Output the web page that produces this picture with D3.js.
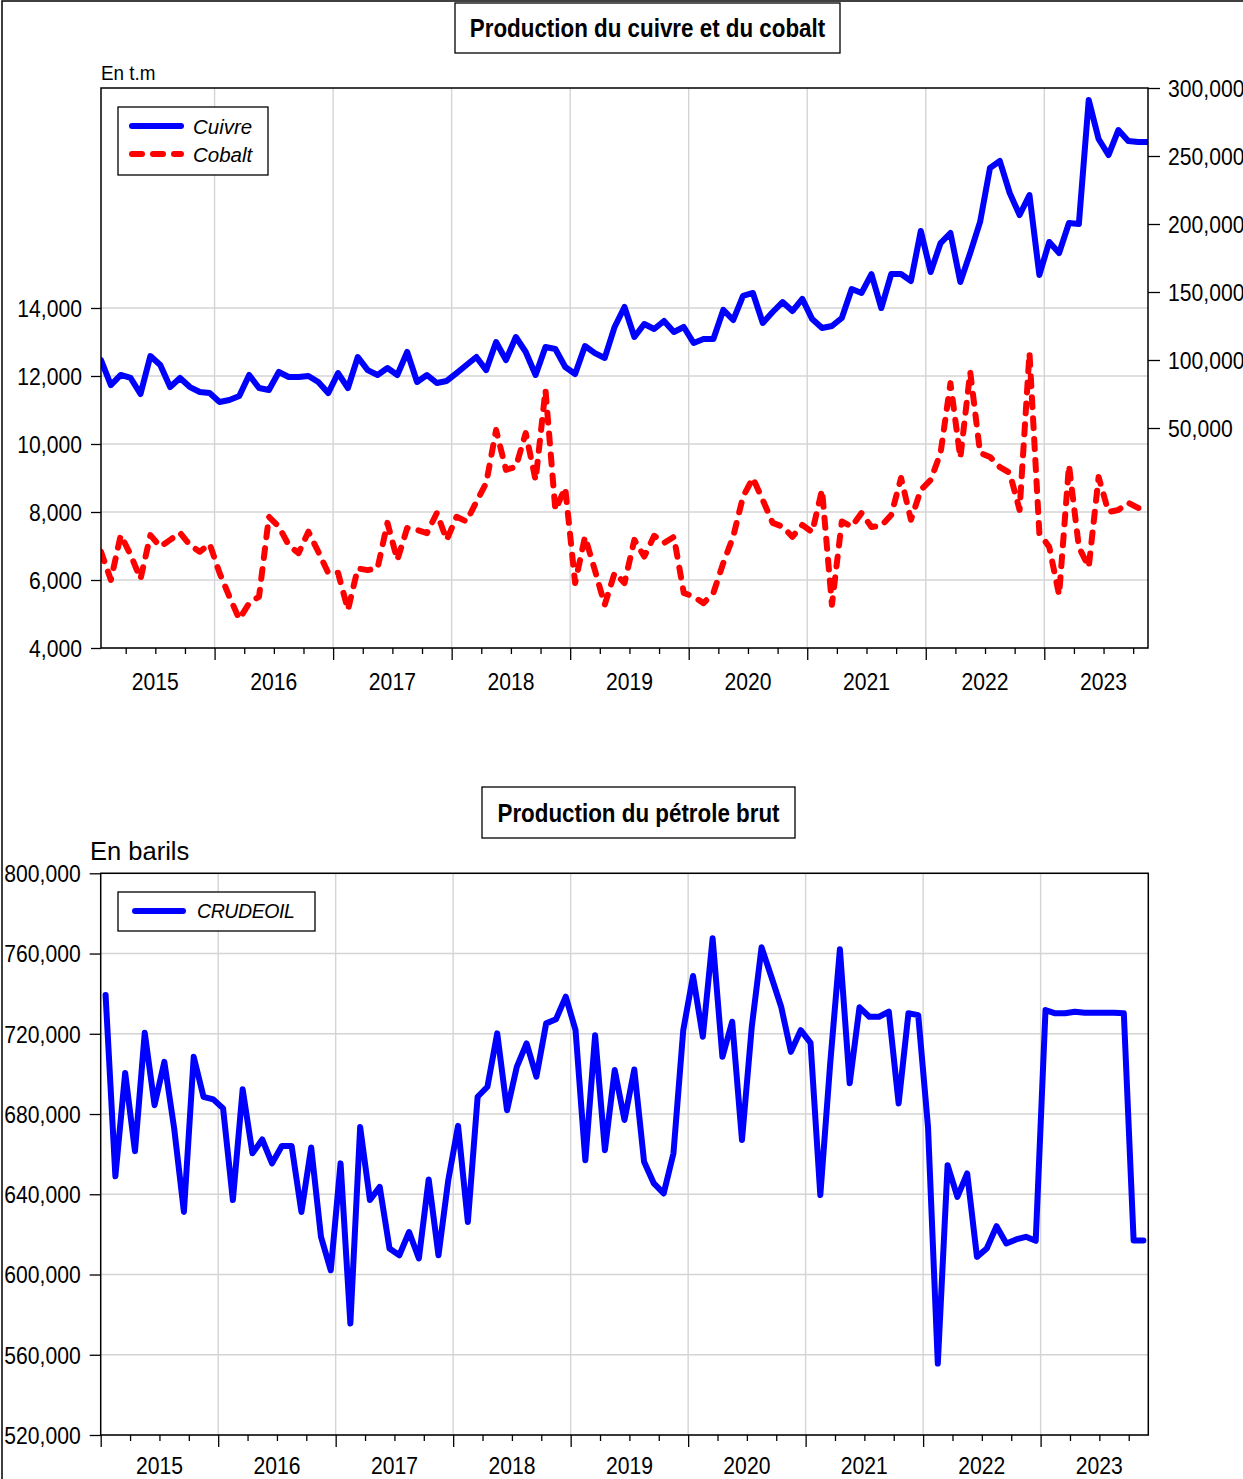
<!DOCTYPE html>
<html>
<head>
<meta charset="utf-8">
<script src="https://cdn.jsdelivr.net/npm/d3@7/dist/d3.min.js"></script>
<style>
body { margin: 0; background: #fff; }
svg { display: block; }
</style>
</head>
<body>
<script>
var years = ['2015', '2016', '2017', '2018', '2019', '2020', '2021', '2022', '2023'];

// monthly, Jan 2015 - Nov 2023
var cuivre = [100000, 81600, 89000, 86800, 75000, 102900, 96300, 80100, 86800, 80100,
  76500, 75700, 69100, 70600, 73500, 89000, 79400, 77900, 91200, 87500,
  87500, 88200, 83800, 75700, 90400, 79400, 102200, 92600, 89000, 94100,
  89000, 105900, 83800, 89000, 83100, 84600, 90400, 96300, 102200, 92600,
  113200, 100000, 116900, 105900, 89000, 109600, 108100, 94900, 89700, 110300,
  105100, 101500, 124300, 139000, 116900, 126500, 122800, 128700, 120600, 124300,
  112500, 115400, 115400, 136800, 129400, 147100, 149300, 127200, 135300, 142600,
  136000, 144900, 130100, 123500, 125000, 130900, 152200, 149300, 163200, 138200,
  163200, 163200, 158100, 194900, 164700, 186000, 193400, 157400, 178700, 201500,
  241200, 246300, 222800, 206600, 221300, 162500, 186800, 178700, 200700, 200000,
  291200, 262500, 250700, 269100, 261000, 260300, 260300];

var cobalt = [6830, 6000, 7320, 6740, 6030, 7320, 6980, 7180, 7390, 7030,
  6830, 7060, 6210, 5510, 4850, 5320, 5510, 7860, 7570, 7030,
  6790, 7420, 6830, 6210, 6210, 5120, 6340, 6290, 6350, 7680,
  6590, 7530, 7470, 7380, 7970, 7180, 7860, 7720, 8300, 8850,
  10410, 9240, 9330, 10320, 8940, 11590, 8060, 8710, 5910, 7270,
  6290, 5270, 6210, 5910, 7180, 6690, 7300, 7090, 7270, 5620,
  5510, 5320, 5620, 6500, 7270, 8450, 9000, 8350, 7680, 7570,
  7270, 7620, 7410, 8650, 5270, 7720, 7570, 7970, 7560, 7590,
  7910, 9000, 7770, 8650, 8940, 9740, 11790, 9590, 12120, 9740,
  9620, 9320, 9150, 8060, 12680, 7380, 6970, 5560, 9380, 6970,
  6380, 9030, 8000, 8060, 8270, 8120, 8120];

var crudeoil = [739300, 649000, 700500, 661500, 720500, 684400, 706000, 673000, 631200, 708500,
  688600, 687300, 682800, 637100, 692300, 660400, 667300, 655400, 664100, 664100,
  631200, 663300, 618800, 602100, 655400, 575600, 673500, 637100, 643700, 613000,
  609600, 621200, 608000, 647400, 609600, 647000, 674100, 626200, 688600, 693600,
  720200, 681900, 703500, 715200, 698600, 725200, 727200, 738500, 721800, 657000,
  719300, 662000, 701900, 677000, 702200, 656200, 645400, 640400, 660400, 721800,
  748800, 718500, 767600, 708500, 726000, 667000, 723500, 763100, 748400, 733500,
  711000, 721800, 715500, 639600, 704600, 762100, 695300, 733200, 728500, 728500,
  731000, 685300, 730200, 729300, 673600, 555600, 654500, 638700, 650400, 608800,
  613000, 624100, 615500, 617500, 618800, 616800, 731800, 730200, 730200, 731000,
  730500, 730500, 730500, 730500, 730200, 617000, 617000];

var cobaltTicks = [4000, 6000, 8000, 10000, 12000, 14000];
var cuivreTicks = [50000, 100000, 150000, 200000, 250000, 300000];
var oilTicks = [520000, 560000, 600000, 640000, 680000, 720000, 760000, 800000];

var W = 1243, H = 1479;
var SQ = 0.92;
var fmt = d3.format(',');
var nObs = cuivre.length;

var svg = d3.select('body').append('svg')
    .attr('width', W)
    .attr('height', H)
    .style('font-family', '"Liberation Sans", Arial, sans-serif');

svg.append('path')
    .attr('d', 'M2,' + H + 'V1H' + W)
    .attr('fill', 'none')
    .attr('stroke', '#000')
    .attr('stroke-width', 1.5);

function titleBox(txt, cx, y, w, h) {
    svg.append('rect')
        .attr('x', cx - w / 2).attr('y', y)
        .attr('width', w).attr('height', h)
        .attr('fill', '#fff').attr('stroke', '#000').attr('stroke-width', 1.3);
    svg.append('text')
        .attr('transform', 'translate(' + cx + ',' + (y + h / 2 + 9) + ') scale(0.895,1)')
        .attr('text-anchor', 'middle')
        .style('font-weight', 'bold')
        .style('font-size', '25px')
        .text(txt);
}

function grid(g, p, x, y, xs, ys) {
    g.selectAll('.gx').data(xs).enter().append('line')
        .attr('x1', x).attr('x2', x)
        .attr('y1', p.top).attr('y2', p.bottom)
        .attr('stroke', '#d4d4d4').attr('stroke-width', 1.4);
    g.selectAll('.gy').data(ys).enter().append('line')
        .attr('x1', p.left).attr('x2', p.right)
        .attr('y1', y).attr('y2', y)
        .attr('stroke', '#d4d4d4').attr('stroke-width', 1.4);
}

function xAxis(p, x, ticks, labelY) {
    var g = svg.append('g').attr('transform', 'translate(0,' + p.bottom + ')');
    g.call(d3.axisBottom(x).tickValues(ticks).tickSize(6).tickSizeOuter(0).tickFormat(''));
    g.select('.domain').remove();
    g.selectAll('.tick line')
        .attr('y2', function(d) { return (d + 0.5) % 12 === 0 ? 12 : 6; })
        .attr('stroke', '#000').attr('stroke-width', 1.3);
    svg.selectAll(null).data(years).enter().append('text')
        .attr('transform', function(d, i) {
            return 'translate(' + x(12 * i + 5.5) + ',' + labelY + ') scale(' + SQ + ',1)';
        })
        .attr('text-anchor', 'middle')
        .style('font-size', '23px')
        .text(function(d) { return d; });
}

function yAxis(axis, xpos, shift) {
    var g = svg.append('g').attr('transform', 'translate(' + xpos + ',0)');
    g.call(axis);
    g.select('.domain').remove();
    g.selectAll('.tick line').attr('stroke', '#000').attr('stroke-width', 1.3);
    g.selectAll('.tick text')
        .attr('x', null)
        .attr('dy', '0.36em')
        .attr('transform', 'translate(' + shift + ',0) scale(' + SQ + ',1)')
        .attr('fill', '#000')
        .style('font-size', '23px')
        .style('font-family', '"Liberation Sans", Arial, sans-serif');
    return g;
}

function clip(id, p) {
    svg.append('clipPath').attr('id', id).append('rect')
        .attr('x', p.left).attr('y', p.top)
        .attr('width', p.right - p.left).attr('height', p.bottom - p.top);
}

// ---------- top chart ----------
var p1 = {left: 101, right: 1148, top: 88, bottom: 648};
var x1 = d3.scaleLinear().domain([0, nObs - 1]).range([p1.left, p1.right]);
var yLeft = d3.scaleLinear().domain([4000, 20470]).range([p1.bottom, p1.top]);
var yRight = d3.scaleLinear().domain([-111760, 300000]).range([p1.bottom, p1.top]);

var breaks1 = d3.range(1, years.length).map(function(k) { return 12 * k - 0.5; });
var quarters1 = d3.range(2.5, nObs - 1, 3);

titleBox('Production du cuivre et du cobalt', 647.5, 3, 385, 50);

var g1 = svg.append('g');
grid(g1, p1, x1, yLeft, breaks1, cobaltTicks);
clip('c1', p1);

var lineCu = d3.line()
    .x(function(d, i) { return x1(i); })
    .y(function(d) { return yRight(d); });
var lineCo = d3.line()
    .x(function(d, i) { return x1(i); })
    .y(function(d) { return yLeft(d); });

g1.append('path').datum(cuivre)
    .attr('clip-path', 'url(#c1)')
    .attr('d', lineCu)
    .attr('fill', 'none').attr('stroke', '#0000ff').attr('stroke-width', 6)
    .attr('stroke-linejoin', 'round').attr('stroke-linecap', 'round');
g1.append('path').datum(cobalt)
    .attr('clip-path', 'url(#c1)')
    .attr('d', lineCo)
    .attr('fill', 'none').attr('stroke', '#ff0000').attr('stroke-width', 6)
    .attr('stroke-dasharray', '10,11')
    .attr('stroke-linejoin', 'round').attr('stroke-linecap', 'round');

svg.append('rect')
    .attr('x', p1.left).attr('y', p1.top)
    .attr('width', p1.right - p1.left).attr('height', p1.bottom - p1.top)
    .attr('fill', 'none').attr('stroke', '#000').attr('stroke-width', 1.5);

yAxis(d3.axisLeft(yLeft).tickValues(cobaltTicks).tickSize(10).tickFormat(fmt), p1.left, -19)
    .selectAll('.tick text').attr('text-anchor', 'end');
yAxis(d3.axisRight(yRight).tickValues(cuivreTicks).tickSize(12).tickFormat(fmt), p1.right, 20)
    .selectAll('.tick text').attr('text-anchor', 'start');
xAxis(p1, x1, quarters1, 690);

svg.append('text')
    .attr('transform', 'translate(' + p1.left + ',80) scale(0.9,1)')
    .style('font-size', '21px')
    .text('En t.m');

var leg1 = svg.append('g');
leg1.append('rect')
    .attr('x', 118).attr('y', 107).attr('width', 150).attr('height', 68)
    .attr('fill', '#fff').attr('stroke', '#000').attr('stroke-width', 1.3);
var legItems1 = [
    {name: 'Cuivre', color: '#0000ff', dash: null},
    {name: 'Cobalt', color: '#ff0000', dash: '10,11'}
];
legItems1.forEach(function(d, i) {
    var ly = 126 + i * 28;
    leg1.append('line')
        .attr('x1', 132).attr('x2', 181).attr('y1', ly).attr('y2', ly)
        .attr('stroke', d.color).attr('stroke-width', 6)
        .attr('stroke-linecap', 'round')
        .attr('stroke-dasharray', d.dash);
    leg1.append('text')
        .attr('x', 193).attr('y', ly + 7.5)
        .style('font-style', 'italic').style('font-size', '20.5px')
        .text(d.name);
});

// ---------- bottom chart ----------
var p2 = {left: 100.7, right: 1148.3, top: 873.3, bottom: 1435};
var x2 = d3.scaleLinear().domain([-0.5, nObs - 0.5]).range([p2.left, p2.right]);
var y2 = d3.scaleLinear().domain([520000, 800000]).range([p2.bottom, p2.top]);

var breaks2 = breaks1;
var quarters2 = d3.range(-0.5, nObs, 3);

titleBox('Production du pétrole brut', 638.5, 787, 313, 51);

var g2 = svg.append('g');
grid(g2, p2, x2, y2, breaks2, oilTicks);
clip('c2', p2);

var lineOil = d3.line()
    .x(function(d, i) { return x2(i); })
    .y(function(d) { return y2(d); });

g2.append('path').datum(crudeoil)
    .attr('clip-path', 'url(#c2)')
    .attr('d', lineOil)
    .attr('fill', 'none').attr('stroke', '#0000ff').attr('stroke-width', 6)
    .attr('stroke-linejoin', 'round').attr('stroke-linecap', 'round');

svg.append('rect')
    .attr('x', p2.left).attr('y', p2.top)
    .attr('width', p2.right - p2.left).attr('height', p2.bottom - p2.top)
    .attr('fill', 'none').attr('stroke', '#000').attr('stroke-width', 1.5);

yAxis(d3.axisLeft(y2).tickValues(oilTicks).tickSize(11).tickFormat(fmt), p2.left, -20)
    .selectAll('.tick text').attr('text-anchor', 'end');
xAxis(p2, x2, quarters2, 1474);

svg.append('text')
    .attr('x', 90).attr('y', 860)
    .style('font-size', '25.5px')
    .text('En barils');

var leg2 = svg.append('g');
leg2.append('rect')
    .attr('x', 118).attr('y', 892).attr('width', 197).attr('height', 39)
    .attr('fill', '#fff').attr('stroke', '#000').attr('stroke-width', 1.3);
leg2.append('line')
    .attr('x1', 135).attr('x2', 183).attr('y1', 911).attr('y2', 911)
    .attr('stroke', '#0000ff').attr('stroke-width', 6)
    .attr('stroke-linecap', 'round');
leg2.append('text')
    .attr('x', 197).attr('y', 918)
    .style('font-style', 'italic').style('font-size', '19.5px')
    .style('letter-spacing', '-0.4px')
    .text('CRUDEOIL');
</script>
</body>
</html>
